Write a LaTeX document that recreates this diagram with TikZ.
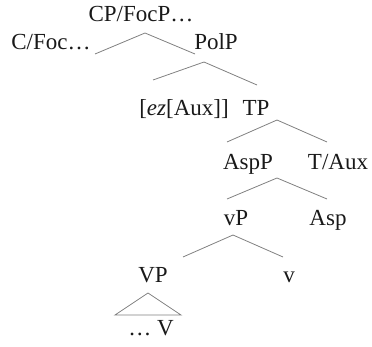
\documentclass[tikz,border=0pt]{standalone}
\usepackage{fontspec}
\setmainfont{Liberation Serif}
\begin{document}
\begin{tikzpicture}[x=1pt,y=-1pt,
  lbl/.style={anchor=base,inner sep=0pt,text=black!90,font=\fontsize{23}{27}\selectfont},
  br/.style={draw=black!50,line width=0.8pt}]
\useasboundingbox (0,0) rectangle (372,347);
% labels
\node[lbl] (cp) at (141,22) {CP/FocP…};
\node[lbl] (cfoc) at (51,50) {C/Foc…};
\node[lbl] (polp) at (216,50) {PolP};
\node[lbl] (ez) at (184,116) {[\textit{ez}[Aux]]};
\node[lbl] (tp) at (256,116) {TP};
\node[lbl] (aspp) at (248,170) {AspP};
\node[lbl] (taux) at (338,170) {T/Aux};
\node[lbl] (vp) at (236,226) {vP};
\node[lbl] (asp) at (328,226) {Asp};
\node[lbl] (VP) at (153,283) {VP};
\node[lbl] (v) at (289,283) {v};
\node[lbl] (V) at (151,335) {… V};
% branch points
\coordinate (cpA) at (145,33);
\coordinate (cpL) at (95,54);
\coordinate (cpR) at (195,54);
\coordinate (polA) at (204,62);
\coordinate (polL) at (153,80);
\coordinate (polR) at (257,85);
\coordinate (tpA) at (277,120);
\coordinate (tpL) at (227,142);
\coordinate (tpR) at (327,142);
\coordinate (aspA) at (277,178);
\coordinate (aspL) at (227,199);
\coordinate (aspR) at (327,199);
\coordinate (vpA) at (233,235);
\coordinate (vpL) at (183,257);
\coordinate (vpR) at (283,257);
\coordinate (triA) at (148,293);
\coordinate (triL) at (115,315);
\coordinate (triR) at (181,315);
% branches
\draw[br] (cpL) -- (cpA) -- (cpR);
\draw[br] (polL) -- (polA) -- (polR);
\draw[br] (tpL) -- (tpA) -- (tpR);
\draw[br] (aspL) -- (aspA) -- (aspR);
\draw[br] (vpL) -- (vpA) -- (vpR);
\draw[br] (triA) -- (triL) -- (triR) -- cycle;
\end{tikzpicture}
\end{document}
